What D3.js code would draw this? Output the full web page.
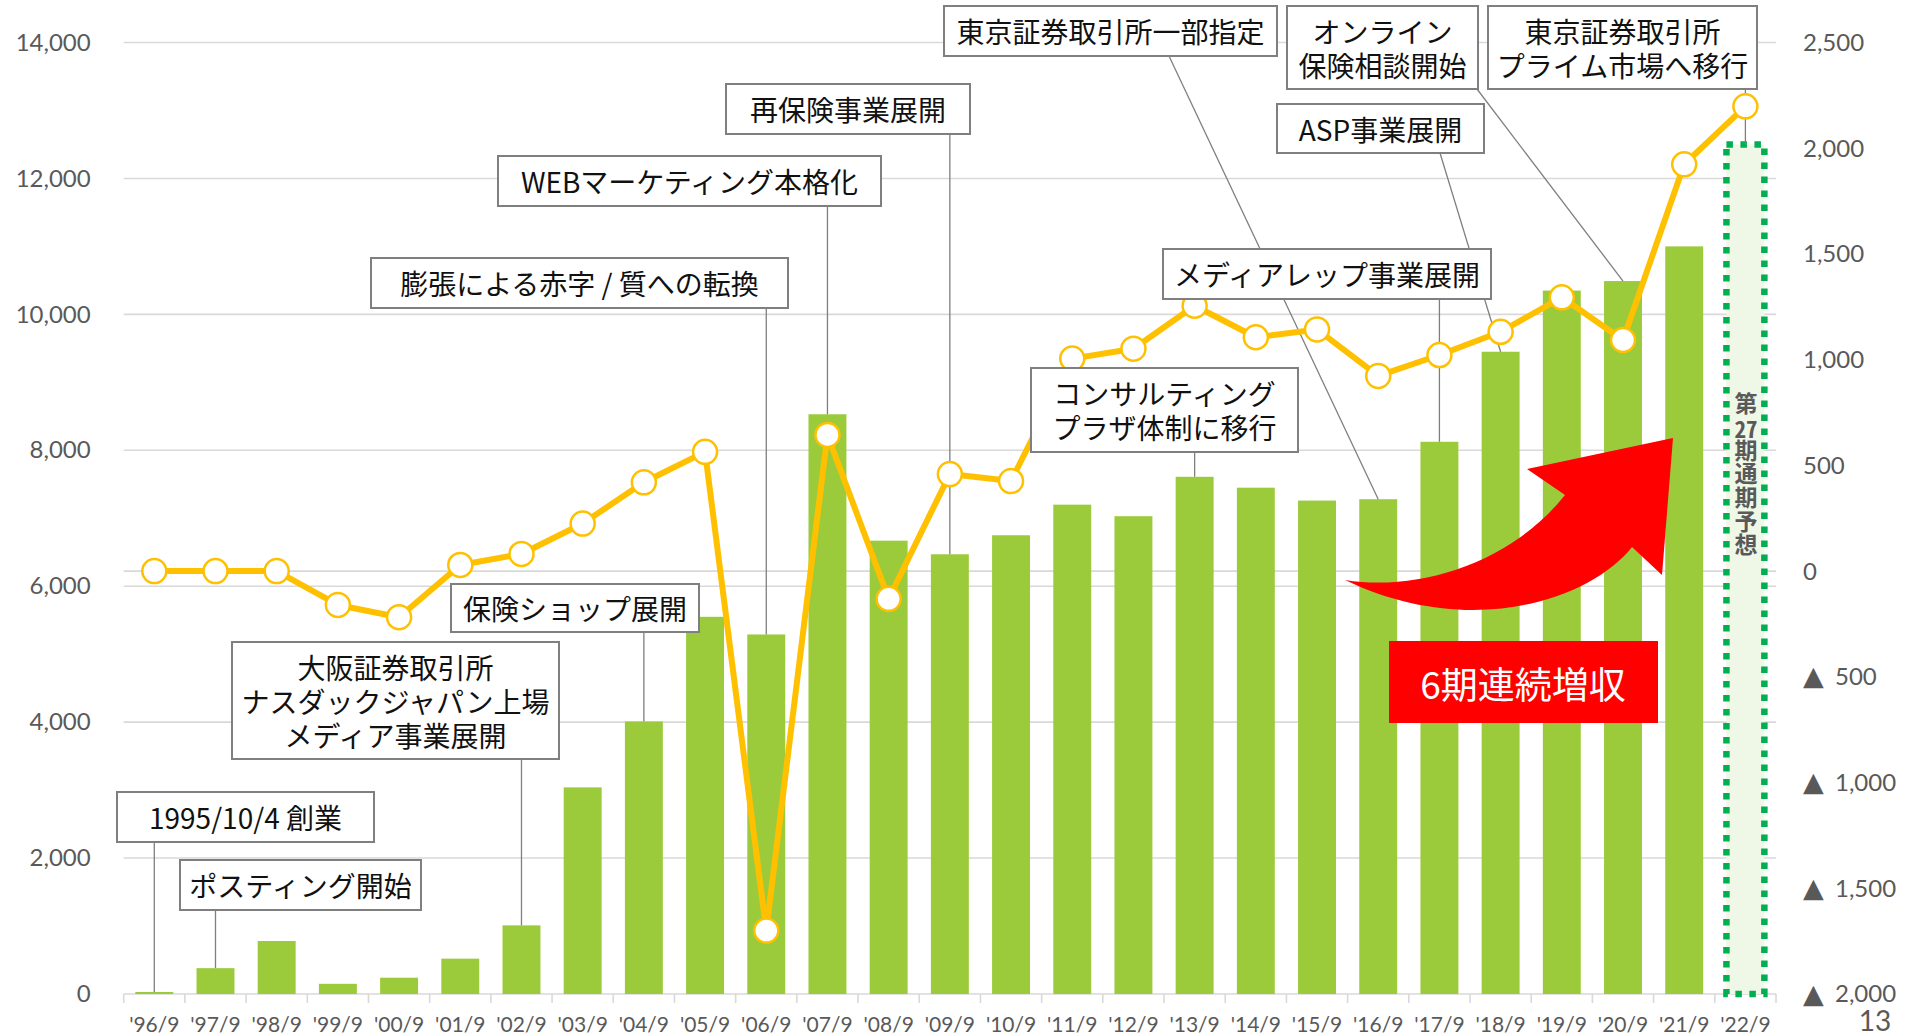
<!DOCTYPE html>
<html lang="ja">
<head>
<meta charset="utf-8">
<title>売上高・営業利益の推移</title>
<script src="https://cdn.jsdelivr.net/npm/d3@7"></script>
<style>
  html, body { margin: 0; padding: 0; background: #fff; }
  body { position: relative; }
  svg { display: block; }
  .num { font-family: Lato, "Noto Sans", sans-serif; fill: #595959; }
  .note-text {
    position: absolute; display: flex; align-items: center; justify-content: center;
    text-align: center; font-family: "Noto Sans CJK JP", sans-serif; font-size: 28px;
    line-height: 34px; color: #111; white-space: nowrap;
  }
  .vlabel {
    position: absolute; writing-mode: vertical-rl; text-orientation: upright;
    font-family: "Noto Sans CJK JP", sans-serif; font-weight: 700; font-size: 23px;
    line-height: 23px; letter-spacing: 0.6px; color: #595959; white-space: nowrap;
  }
  .vlabel .tcy { text-combine-upright: all; }
</style>
</head>
<body>
<svg id="chart"></svg>
<script>
// ---- data ----
const categories = ["'96/9", "'97/9", "'98/9", "'99/9", "'00/9", "'01/9", "'02/9", "'03/9", "'04/9",
  "'05/9", "'06/9", "'07/9", "'08/9", "'09/9", "'10/9", "'11/9", "'12/9", "'13/9", "'14/9",
  "'15/9", "'16/9", "'17/9", "'18/9", "'19/9", "'20/9", "'21/9", "'22/9"];
// 売上高 (left axis)
const revenue = [30, 380, 780, 150, 240, 520, 1010, 3040, 4010, 5550, 5290, 8530, 6670, 6470,
  6750, 7200, 7030, 7610, 7450, 7260, 7280, 8125, 9450, 10350, 10490, 11000, 12500];
// 営業利益 (right axis)
const operatingProfit = [0, 0, 0, -160, -218, 29, 81, 225, 420, 564, -1700, 644, -131, 459,
  426, 1005, 1052, 1255, 1106, 1143, 923, 1022, 1132, 1295, 1093, 1924, 2198];
const forecastCategory = "'22/9";
const leftTicks = [0, 2000, 4000, 6000, 8000, 10000, 12000, 14000];
const rightTicks = [-2000, -1500, -1000, -500, 0, 500, 1000, 1500, 2000, 2500];

const eventLabels = [
  ["1995/10/4 創業"],
  ["ポスティング開始"],
  ["大阪証券取引所", "ナスダックジャパン上場", "メディア事業展開"],
  ["保険ショップ展開"],
  ["膨張による赤字 / 質への転換"],
  ["WEBマーケティング本格化"],
  ["再保険事業展開"],
  ["コンサルティング", "プラザ体制に移行"],
  ["東京証券取引所一部指定"],
  ["メディアレップ事業展開"],
  ["ASP事業展開"],
  ["オンライン", "保険相談開始"],
  ["東京証券取引所", "プライム市場へ移行"]
];
const eventTargets = ["'96/9", "'97/9", "'02/9", "'04/9", "'06/9", "'07/9", "'09/9",
  "'13/9", "'16/9", "'17/9", "'18/9", "'20/9", "'22/9"];
const forecastLabel = ["第", "27", "期通期予想"];
const growthLabel = "6期連続増収";
const pageNumber = "13";

// ---- layout ----
const W = 1905, H = 1036;
const plot = {left: 123.7, right: 1776, top: 42.5, bottom: 994};
// annotation boxes [x0, y0, x1, y1] and optional leader start x
const noteBoxes = [
  [117, 792, 374, 842], [180, 860, 421, 910], [232, 642, 559, 759], [451, 584, 699, 632],
  [371, 258, 788, 308], [498, 156, 881, 206], [726, 84, 970, 134], [1031, 368, 1298, 452],
  [944, 6, 1277, 56], [1163, 249, 1491, 299], [1277, 104, 1484, 153], [1287, 6, 1478, 89],
  [1488, 6, 1757, 89]
];
const leaderFromX = [null, null, null, null, null, null, null, null, 1169, null, 1440, 1477, null];

const svg = d3.select("#chart").attr("width", W).attr("height", H);

const x = d3.scaleBand().domain(categories).range([plot.left, plot.right])
  .paddingInner(0.38).paddingOuter(0.19);
const bw = x.bandwidth();
const cx = c => x(c) + bw / 2;
const yL = d3.scaleLinear().domain([0, 14000]).range([plot.bottom, plot.top]);
const yR = d3.scaleLinear().domain([-2000, 2500]).range([plot.bottom, plot.top]);

const grid = svg.append("g").attr("stroke", "#d9d9d9").attr("stroke-width", 1.6);
grid.selectAll("line.h").data(leftTicks).join("line").attr("class", "h")
  .attr("x1", plot.left).attr("x2", plot.right)
  .attr("y1", d => yL(d)).attr("y2", d => yL(d));
grid.append("line").attr("x1", plot.left).attr("x2", plot.right)
  .attr("y1", yR(0)).attr("y2", yR(0));
const gap = x.step() - bw;
grid.selectAll("line.t").data(categories.map(c => x(c) - gap / 2).concat([plot.right]))
  .join("line").attr("class", "t")
  .attr("x1", d => d).attr("x2", d => d)
  .attr("y1", plot.bottom).attr("y2", plot.bottom + 9);

// bars
const barData = categories.map((c, i) => ({c, v: revenue[i]}));
svg.append("g").selectAll("rect").data(barData.filter(d => d.c !== forecastCategory)).join("rect")
  .attr("x", d => x(d.c)).attr("width", bw)
  .attr("y", d => yL(d.v)).attr("height", d => yL(0) - yL(d.v))
  .attr("fill", "#9bcb3b");

// forecast bar
const fc = barData.find(d => d.c === forecastCategory);
svg.append("rect")
  .attr("x", x(fc.c)).attr("width", bw)
  .attr("y", yL(fc.v)).attr("height", yL(0) - yL(fc.v))
  .attr("fill", "#eff7e6").attr("stroke", "#00b050")
  .attr("stroke-width", 6.5).attr("stroke-dasharray", "6.5 7.5");

// leader lines
svg.append("g").attr("stroke", "#7f7f7f").attr("stroke-width", 1.3)
  .selectAll("line").data(eventTargets).join("line")
  .attr("x1", (c, i) => leaderFromX[i] !== null ? leaderFromX[i] : cx(c))
  .attr("y1", (c, i) => noteBoxes[i][3])
  .attr("x2", c => cx(c))
  .attr("y2", c => yL(revenue[categories.indexOf(c)]));

// operating profit line
const lineData = categories.map((c, i) => ({c, v: operatingProfit[i]}));
svg.append("path").datum(lineData)
  .attr("fill", "none").attr("stroke", "#ffc000").attr("stroke-width", 6)
  .attr("stroke-linejoin", "round")
  .attr("d", d3.line().x(d => cx(d.c)).y(d => yR(d.v)));
svg.append("g").selectAll("circle").data(lineData).join("circle")
  .attr("cx", d => cx(d.c)).attr("cy", d => yR(d.v)).attr("r", 12)
  .attr("fill", "#fff").attr("stroke", "#ffc000").attr("stroke-width", 2.5);

// annotation boxes (frames in svg, texts as html blocks)
svg.append("g").selectAll("rect").data(noteBoxes).join("rect")
  .attr("x", b => b[0]).attr("y", b => b[1])
  .attr("width", b => b[2] - b[0]).attr("height", b => b[3] - b[1])
  .attr("fill", "#fff").attr("stroke", "#7f7f7f").attr("stroke-width", 2);

// red arrow
const defs = svg.append("defs");
defs.append("filter").attr("id", "soft").append("feGaussianBlur").attr("stdDeviation", 0.7);
const ap = d3.path();
ap.moveTo(1345, 580);
ap.bezierCurveTo(1420, 592, 1512, 562, 1565, 495);
ap.lineTo(1527, 469);
ap.lineTo(1673, 438);
ap.lineTo(1662, 575);
ap.lineTo(1632, 547);
ap.bezierCurveTo(1590, 600, 1470, 640, 1345, 580);
ap.closePath();
svg.append("path").attr("d", ap.toString()).attr("fill", "#ff0000").attr("filter", "url(#soft)");

// growth label
svg.append("rect").attr("x", 1389).attr("y", 641).attr("width", 269).attr("height", 82)
  .attr("fill", "#ff0000");
svg.append("text").attr("x", 1523).attr("y", 683)
  .attr("text-anchor", "middle").attr("dominant-baseline", "central")
  .attr("font-family", "'Noto Sans CJK JP', sans-serif").attr("font-size", 37)
  .attr("fill", "#fff").text(growthLabel);

// left axis
const axL = svg.append("g").attr("transform", `translate(${plot.left},0)`)
  .call(d3.axisLeft(yL).tickValues(leftTicks).tickSize(0).tickPadding(33).tickFormat(d3.format(",")));
axL.select(".domain").remove();
axL.selectAll("text").attr("class", "num").attr("font-size", 24).attr("fill", "#595959");

// x axis labels
const axB = svg.append("g").attr("transform", `translate(0,${plot.bottom})`)
  .call(d3.axisBottom(x).tickSize(0).tickPadding(23));
axB.select(".domain").remove();
axB.selectAll("text").attr("class", "num").attr("font-size", 21).attr("fill", "#595959");

// right axis (▲ marks negatives)
const fmt = d3.format(",");
const axR = svg.append("g").selectAll("g").data(rightTicks).join("g")
  .attr("transform", d => `translate(1803,${yR(d)})`);
axR.filter(d => d < 0).append("text")
  .attr("dominant-baseline", "central").attr("y", -1)
  .attr("font-family", "'DejaVu Sans', sans-serif").attr("font-size", 27)
  .attr("fill", "#595959").text("▲");
axR.append("text").attr("class", "num")
  .attr("x", d => d < 0 ? 32 : 0).attr("dy", "0.35em")
  .attr("font-size", 24).text(d => fmt(Math.abs(d)));

// page number
svg.append("text").attr("class", "num").attr("x", 1875).attr("y", 1031)
  .attr("text-anchor", "middle").attr("font-size", 28).attr("fill", "#7f7f7f")
  .text(pageNumber);

// annotation texts
d3.select("body").selectAll("div.note-text").data(eventLabels).join("div")
  .attr("class", "note-text")
  .style("left", (d, i) => noteBoxes[i][0] + "px")
  .style("top", (d, i) => noteBoxes[i][1] + "px")
  .style("width", (d, i) => (noteBoxes[i][2] - noteBoxes[i][0]) + "px")
  .style("height", (d, i) => (noteBoxes[i][3] - noteBoxes[i][1]) + "px")
  .html(d => d.join("<br>"));

// forecast vertical label (vertical writing, "27" kept upright side by side)
const vl = d3.select("body").append("div").attr("class", "vlabel");
vl.selectAll("span").data(forecastLabel).join("span")
  .attr("class", (d, i) => i === 1 ? "tcy" : null)
  .text(d => d);
const vb = vl.node().getBoundingClientRect();
vl.style("left", (cx(forecastCategory) - vb.width / 2) + "px").style("top", "392px");
</script>
</body>
</html>
